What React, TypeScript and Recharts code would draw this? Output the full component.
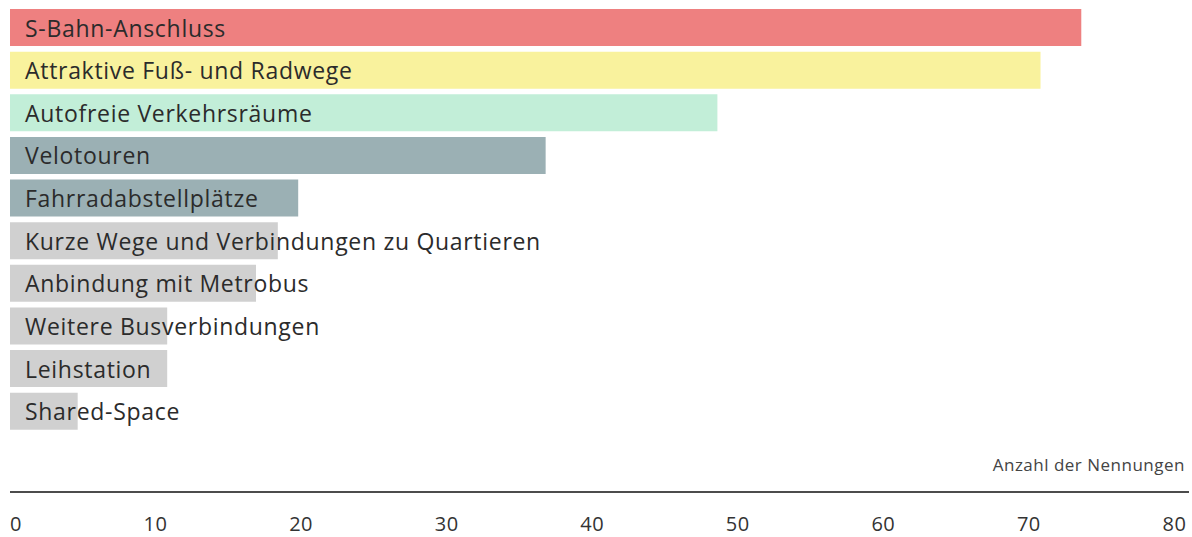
import React from 'react';
import { BarChart, Bar, XAxis, YAxis, Cell, LabelList } from 'recharts';

const categories = [
  'S-Bahn-Anschluss',
  'Attraktive Fuß- und Radwege',
  'Autofreie Verkehrsräume',
  'Velotouren',
  'Fahrradabstellplätze',
  'Kurze Wege und Verbindungen zu Quartieren',
  'Anbindung mit Metrobus',
  'Weitere Busverbindungen',
  'Leihstation',
  'Shared-Space',
];
const values = [73.6, 70.8, 48.6, 36.8, 19.8, 18.4, 16.9, 10.8, 10.8, 4.65];
const colors = ['#EE8080', '#F9F29D', '#C2EED8', '#9BB0B4', '#9BB0B4', '#D0D0D0', '#D0D0D0', '#D0D0D0', '#D0D0D0', '#D0D0D0'];
const xTicks = [0, 10, 20, 30, 40, 50, 60, 70, 80];
const axisTitle = 'Anzahl der Nennungen';

const data = categories.map((name, i) => ({ name, value: values[i], color: colors[i] }));

const FONT = '"Open Sans", "Noto Sans", sans-serif';

const BarLabel = (props: any) => {
  const { x, y, height, value } = props;
  return (
    <text x={x + 15} y={y + height / 2} dominantBaseline="central" fill="#2b2b2b" fontSize={23} letterSpacing={0.7} fontFamily={FONT}>
      {value}
    </text>
  );
};

const Tick = (props: any) => {
  const { x, y, payload, index } = props;
  return (
    <text x={x} y={y + 31.5} textAnchor={index === 0 ? 'start' : 'middle'} dominantBaseline="central" fill="#333" fontSize={20} letterSpacing={0.5} fontFamily={FONT}>
      {payload.value}
    </text>
  );
};

const AxisTitle = (props: any) => {
  const { viewBox } = props;
  return (
    <text x={viewBox.x + viewBox.width - 4} y={viewBox.y - 28} textAnchor="end" dominantBaseline="central" fill="#444" fontSize={17} letterSpacing={0.5} fontFamily={FONT}>
      {axisTitle}
    </text>
  );
};

export default function App() {
  return (
    <div style={{ position: 'absolute', left: 0, top: 0, background: '#fff' }}>
      <BarChart
        width={1192}
        height={537}
        data={data}
        layout="vertical"
        margin={{ top: 6.3, right: 3, bottom: 0, left: 10 }}
        barCategoryGap={2.7}
      >
        <XAxis
          type="number"
          domain={[0, 81]}
          ticks={xTicks}
          tickLine={false}
          tickSize={0}
          tickMargin={0}
          axisLine={{ stroke: '#111', strokeWidth: 1.5 }}
          tick={<Tick />}
          height={45}
          interval={0}
          label={<AxisTitle />}
        />
        <YAxis type="category" dataKey="name" hide width={0} padding={{ top: 0, bottom: 59.3 }} />
        <Bar dataKey="value" isAnimationActive={false}>
          {data.map((d, i) => (
            <Cell key={i} fill={d.color} />
          ))}
          <LabelList dataKey="name" content={<BarLabel />} />
        </Bar>
      </BarChart>
    </div>
  );
}
